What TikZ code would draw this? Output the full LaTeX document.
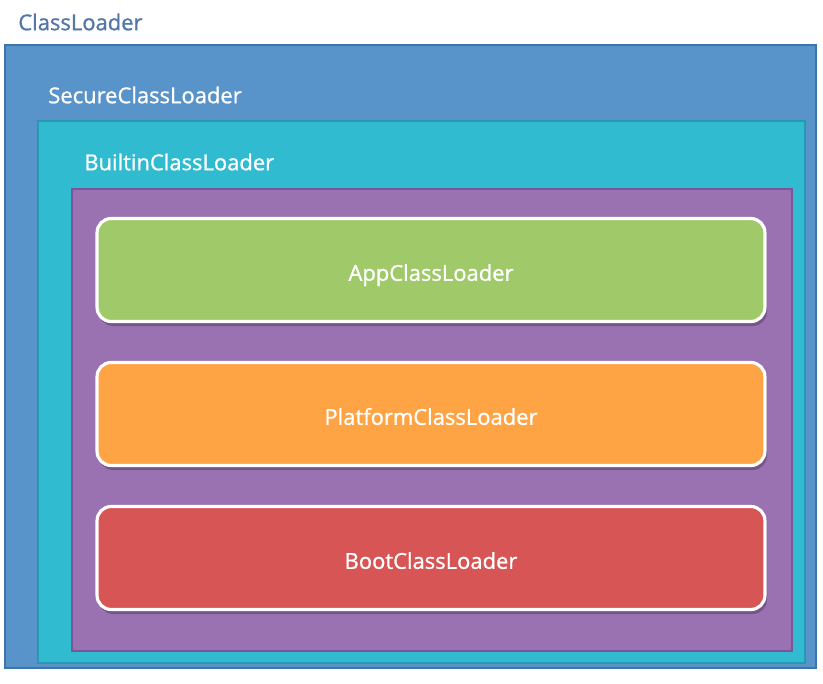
\documentclass[tikz,border=0pt]{standalone}
\usepackage{fontspec}
\setmainfont{Open Sans}
\newfontfamily\loaderfont[FakeBold=1]{Open Sans}
\usetikzlibrary{positioning}

\definecolor{outerblue}{HTML}{5893C9}
\definecolor{outeredge}{HTML}{3C74AC}
\definecolor{innercyan}{HTML}{30BBD0}
\definecolor{cyanedge}{HTML}{2698B2}
\definecolor{builtinpurple}{HTML}{9A72B1}
\definecolor{purpleedge}{HTML}{7A559A}
\definecolor{appgreen}{HTML}{A0CA6A}
\definecolor{platformorange}{HTML}{FFA444}
\definecolor{bootred}{HTML}{D85555}
\definecolor{titleblue}{HTML}{5476AA}

\tikzset{
  layer/.style={line width=0.9pt},
  layerlabel/.style={anchor=west, text=white, inner sep=0pt,
    font=\loaderfont\fontsize{12.5}{14}\selectfont},
  loaderbox/.style={draw=white, line width=1.8pt, rounded corners=8pt,
    minimum width=13.36cm, minimum height=2.06cm, text=white,
    text height=12.3pt, text depth=0pt,
    font=\loaderfont\fontsize{12.5}{14}\selectfont},
  boxshadow/.style={fill=black!60!purpleedge, opacity=0.35, rounded corners=8pt}
}

\begin{document}
\begin{tikzpicture}[x=0.02cm,y=-0.02cm]
\useasboundingbox (0,0) rectangle (823,684);
\fill[white] (0,0) rectangle (823,684);

% nested loader layers
\draw[layer, fill=outerblue, draw=outeredge] (5,45) rectangle (816,668);
\draw[layer, fill=innercyan, draw=cyanedge] (38,121) rectangle (805,663);
\draw[layer, fill=builtinpurple, draw=purpleedge] (72,189) rectangle (792,651);

\node[layerlabel, text=titleblue] (classloader) at (18,22) {ClassLoader};
\node[layerlabel] (secure) at (48,95) {SecureClassLoader};
\node[layerlabel] (builtin) at (84,162) {BuiltinClassLoader};

% the three loaders
\foreach \y/\c/\t in {270/appgreen/AppClassLoader,
                      414/platformorange/PlatformClassLoader,
                      558/bootred/BootClassLoader} {
  \fill[boxshadow] (99,\y-49) rectangle (767,\y+56);
  \node[loaderbox, fill=\c] (\t) at (431,\y) {\t};
}
\end{tikzpicture}
\end{document}
